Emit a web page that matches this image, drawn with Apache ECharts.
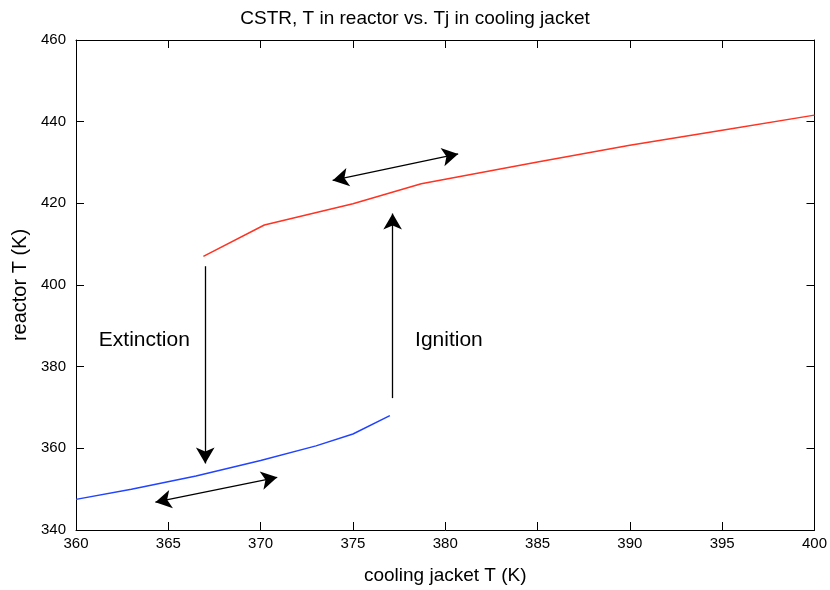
<!DOCTYPE html>
<html>
<head>
<meta charset="utf-8">
<script src="https://cdn.jsdelivr.net/npm/echarts@6/dist/echarts.min.js"></script>
<style>
  html, body { margin: 0; padding: 0; background: #fff; }
  #main { width: 830px; height: 590px; }
</style>
</head>
<body>
<div id="main"></div>
<script>
// lower branch (blue) and upper branch (red), [Tj, T]
var lowBranch = [[360, 347.5], [363, 350.0], [366.5, 353.2], [370, 357.0], [373, 360.6], [375, 363.5], [377, 368.0]];
var highBranch = [[366.9, 407.0], [370.2, 414.7], [375, 419.9], [378.7, 424.8], [385, 430.1], [390, 434.2], [395, 437.9], [400, 441.6]];

// arrows: [start, end]
var extinctionArrow = [[367.0, 404.6], [367.0, 356.3]];
var ignitionArrow = [[377.15, 372.3], [377.15, 417.5]];
var lowSwing = [[364.3, 346.8], [370.9, 352.9]];
var highSwing = [[373.9, 425.6], [380.7, 432.1]];

// annotations
var notes = [
  {name: 'Extinction', coord: [363.7, 386.4]},
  {name: 'Ignition', coord: [380.2, 386.4]}
];

var xMin = 360, xMax = 400, xStep = 5;
var yMin = 340, yMax = 460, yStep = 20;

var font = 'Liberation Sans, Arial, sans-serif';

function seg(p, symbols) {
  return [{coord: p[0], symbol: symbols[0]}, {coord: p[1], symbol: symbols[1]}];
}

var chart = echarts.init(document.getElementById('main'));
var option = {
  backgroundColor: '#fff',
  animation: false,
  title: {
    text: 'CSTR, T in reactor vs. Tj in cooling jacket',
    left: 'center',
    top: 4,
    textStyle: {fontFamily: font, fontSize: 19, fontWeight: 'normal', color: '#000'}
  },
  grid: {left: 76, right: 15, top: 40, bottom: 56},
  xAxis: [{
    type: 'value', min: xMin, max: xMax, interval: xStep,
    name: 'cooling jacket T (K)', nameLocation: 'middle', nameGap: 36,
    nameTextStyle: {fontFamily: font, fontSize: 19, color: '#000'},
    axisLine: {show: true, lineStyle: {color: '#000'}},
    axisTick: {inside: true, length: 8, lineStyle: {color: '#000'}},
    axisLabel: {fontFamily: font, fontSize: 15, color: '#000', margin: 6},
    splitLine: {show: false}
  }, {
    type: 'value', position: 'top', min: xMin, max: xMax, interval: xStep,
    axisLine: {show: true, lineStyle: {color: '#000'}},
    axisTick: {inside: true, length: 8, lineStyle: {color: '#000'}},
    axisLabel: {show: false},
    splitLine: {show: false}
  }],
  yAxis: [{
    type: 'value', min: yMin, max: yMax, interval: yStep,
    name: 'reactor T (K)', nameLocation: 'middle', nameGap: 46,
    nameTextStyle: {fontFamily: font, fontSize: 20, color: '#000'},
    axisLine: {show: true, lineStyle: {color: '#000'}},
    axisTick: {inside: true, length: 8, lineStyle: {color: '#000'}},
    axisLabel: {fontFamily: font, fontSize: 15, color: '#000', margin: 10},
    splitLine: {show: false}
  }, {
    type: 'value', position: 'right', min: yMin, max: yMax, interval: yStep,
    axisLine: {show: true, lineStyle: {color: '#000'}},
    axisTick: {inside: true, length: 8, lineStyle: {color: '#000'}},
    axisLabel: {show: false},
    splitLine: {show: false}
  }],
  series: [
    {
      name: 'low', type: 'line', data: lowBranch, showSymbol: false,
      lineStyle: {color: '#2244ff', width: 1.5}
    },
    {
      name: 'high', type: 'line', data: highBranch, showSymbol: false,
      lineStyle: {color: '#ff3322', width: 1.5}
    },
    {
      name: 'arrows', type: 'line', data: [], silent: true,
      markLine: {
        silent: true,
        animation: false,
        symbolSize: [14, 16],
        label: {show: false},
        lineStyle: {color: '#000', width: 1.3, type: 'solid'},
        emphasis: {disabled: true},
        data: [
          seg(extinctionArrow, ['none', 'arrow']),
          seg(ignitionArrow, ['none', 'arrow']),
          seg(lowSwing, ['arrow', 'arrow']),
          seg(highSwing, ['arrow', 'arrow'])
        ]
      },
      markPoint: {
        silent: true,
        animation: false,
        symbol: 'circle',
        symbolSize: 0,
        itemStyle: {color: 'transparent'},
        label: {
          show: true, position: 'inside', formatter: '{b}',
          fontFamily: font, fontSize: 21, color: '#000'
        },
        data: notes
      }
    }
  ]
};
chart.setOption(option);
</script>
</body>
</html>
